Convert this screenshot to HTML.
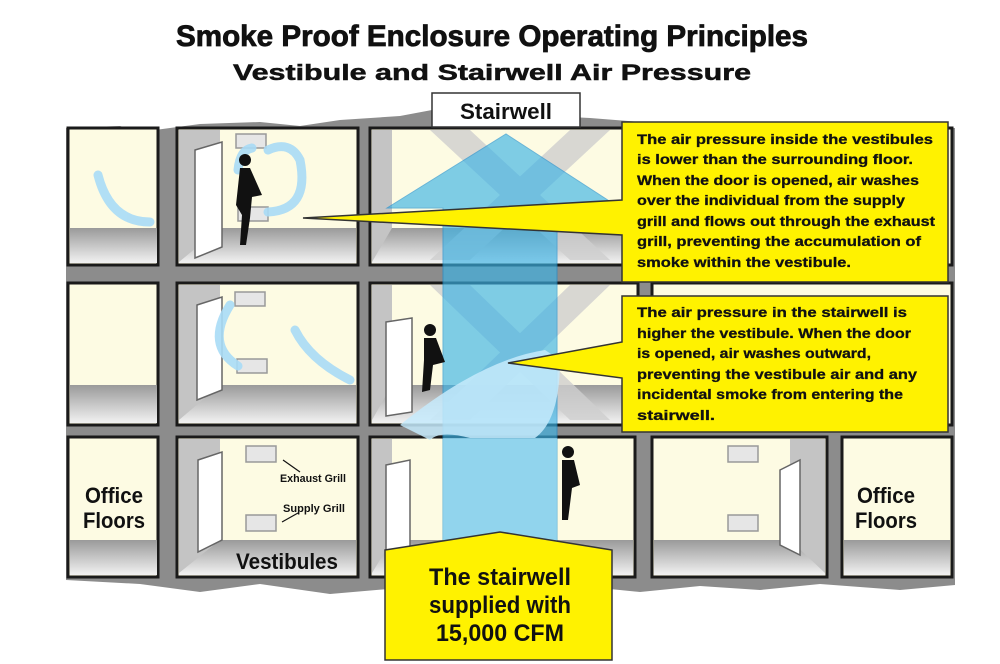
<!DOCTYPE html>
<html><head><meta charset="utf-8"><style>
html,body{margin:0;padding:0;background:#fff;}
svg{display:block;font-family:"Liberation Sans",sans-serif;font-weight:bold;}
</style></head><body>
<svg width="1000" height="664" viewBox="0 0 1000 664" xmlns="http://www.w3.org/2000/svg">
<defs>
<linearGradient id="fl" x1="0" y1="0" x2="0" y2="1"><stop offset="0" stop-color="#9a9a9a"/><stop offset="1" stop-color="#f2f2f2"/></linearGradient>
</defs>
<text x="492" y="46" font-size="30" text-anchor="middle" textLength="632" lengthAdjust="spacingAndGlyphs" fill="#111" stroke="#111" stroke-width="0.8">Smoke Proof Enclosure Operating Principles</text>
<text x="492" y="80" font-size="22" text-anchor="middle" textLength="518" lengthAdjust="spacingAndGlyphs" fill="#111" stroke="#111" stroke-width="0.5">Vestibule and Stairwell Air Pressure</text>

<path d="M66 128 L120 126 L140 132 L200 124 L260 122 L300 126 L340 120 L400 116 L432 110 L590 118 L640 122 L700 124 L760 126 L820 126 L900 128 L955 128 L955 585 L900 590 L820 584 L760 590 L700 586 L640 592 L600 588 L540 594 L470 590 L400 588 L330 594 L260 584 L200 592 L140 584 L66 580 Z" fill="#8c8c8c"/>

<g stroke="#1a1a1a" stroke-width="3">
<rect x="68" y="128" width="90" height="137" fill="#fdfbe3"/>
<rect x="177" y="128" width="181" height="137" fill="#fdfbe3"/>
<rect x="370" y="128" width="268" height="137" fill="#fdfbe3"/>
<rect x="652" y="128" width="300" height="137" fill="#fdfbe3"/>
<rect x="68" y="283" width="90" height="142" fill="#fdfbe3"/>
<rect x="177" y="283" width="181" height="142" fill="#fdfbe3"/>
<rect x="370" y="283" width="268" height="142" fill="#fdfbe3"/>
<rect x="652" y="283" width="300" height="142" fill="#fdfbe3"/>
<rect x="68" y="437" width="90" height="140" fill="#fdfbe3"/>
<rect x="177" y="437" width="181" height="140" fill="#fdfbe3"/>
<rect x="370" y="437" width="265" height="140" fill="#fdfbe3"/>
<rect x="652" y="437" width="175" height="140" fill="#fdfbe3"/>
<rect x="842" y="437" width="110" height="140" fill="#fdfbe3"/>
</g>
<g fill="url(#fl)">
<rect x="70" y="228" width="87" height="35"/>
<rect x="179" y="228" width="177" height="35"/>
<rect x="372" y="228" width="264" height="35"/>
<rect x="70" y="385" width="87" height="38"/>
<rect x="179" y="385" width="177" height="38"/>
<rect x="372" y="385" width="264" height="38"/>
<rect x="70" y="540" width="87" height="35"/>
<rect x="179" y="540" width="177" height="35"/>
<rect x="372" y="540" width="261" height="35"/>
<rect x="654" y="540" width="171" height="35"/>
<rect x="844" y="540" width="106" height="35"/>
</g>
<g fill="#c4c4c4">
<polygon points="179,130 220,130 220,228 179,262"/>
<polygon points="179,285 220,285 220,385 179,420"/>
<polygon points="179,439 220,439 220,540 179,573"/>
<polygon points="372,130 392,130 392,228 372,262"/>
<polygon points="372,285 392,285 392,385 372,420"/>
<polygon points="372,439 392,439 392,540 372,573"/>
<polygon points="825,439 790,439 790,540 825,573"/>
</g>
<g fill="#cfcfcf" opacity="0.8">
<polygon points="430,130 470,130 610,260 570,260"/>
<polygon points="570,130 610,130 470,260 430,260"/>
<polygon points="430,285 470,285 610,420 570,420"/>
<polygon points="570,285 610,285 470,420 430,420"/>
</g>
<g fill="#e6e6e6" stroke="#999" stroke-width="1.5">
<rect x="236" y="134" width="30" height="14"/><rect x="238" y="207" width="30" height="14"/>
<rect x="235" y="292" width="30" height="14"/><rect x="237" y="359" width="30" height="14"/>
<rect x="246" y="446" width="30" height="16"/><rect x="246" y="515" width="30" height="16"/>
<rect x="728" y="446" width="30" height="16"/><rect x="728" y="515" width="30" height="16"/>
</g>
<g fill="#fff" stroke="#666" stroke-width="1.5">
<polygon points="195,150 222,142 222,247 195,258"/>
<polygon points="197,305 222,297 222,390 197,400"/>
<polygon points="198,460 222,452 222,540 198,552"/>
<polygon points="386,322 412,318 412,412 386,416"/>
<polygon points="386,465 410,460 410,555 386,560"/>
<polygon points="630,300 640,300 640,420 630,410"/>
<polygon points="630,150 640,150 640,260 630,250"/>
<polygon points="780,470 800,460 800,555 780,545"/>
</g>
<polygon points="387,208 506,134 620,208 557,208 557,570 443,570 443,208" fill="#3bb3e6" opacity="0.65" stroke="#1a8fd0" stroke-width="1"/>
<path d="M400 425 Q480 360 545 350 L560 360 Q560 420 535 438 L470 438 Q440 430 430 440 Z" fill="#c6eafb" opacity="0.85"/>
<path d="M443 438 L557 438 L557 545 L443 545 Z" fill="#9fd8f3" opacity="0.6"/>
<g fill="none" stroke="#a9dbf6" stroke-width="9" stroke-linecap="round" opacity="0.9">
<path d="M98 175 Q110 222 150 222"/>
<path d="M268 212 Q310 210 300 160 Q290 140 268 150"/>
<path d="M238 170 Q240 150 252 148"/>
<path d="M238 366 Q205 345 230 305"/>
<path d="M350 380 Q310 360 295 330"/>
</g>
<g fill="#111">
<circle cx="245" cy="160" r="6"/><path d="M240 168 L250 168 L262 195 L252 197 L250 218 L246 245 L240 245 L242 215 L236 205 Z"/>
<circle cx="430" cy="330" r="6"/><path d="M424 338 L436 338 L445 362 L433 365 L430 390 L422 392 L424 360 Z"/>
<circle cx="568" cy="452" r="6"/><path d="M562 460 L574 460 L580 485 L572 488 L568 520 L562 520 L562 485 Z"/>
</g>
<rect x="432" y="93" width="148" height="34" fill="#fff" stroke="#333" stroke-width="1.5"/>
<text x="506" y="119" font-size="22" text-anchor="middle" textLength="92" lengthAdjust="spacingAndGlyphs" fill="#111">Stairwell</text>

<g fill="#fff200" stroke="#333" stroke-width="1.5">
<polygon points="622,122 948,122 948,282 622,282 622,235 303,218 622,200"/>
<polygon points="622,296 948,296 948,432 622,432 622,378 508,363 622,342"/>
<polygon points="385,550 500,532 612,550 612,660 385,660"/>
</g>
<g font-size="14" fill="#111" stroke="#111" stroke-width="0.3">
<text x="637" y="144" textLength="296" lengthAdjust="spacingAndGlyphs">The air pressure inside the vestibules</text>
<text x="637" y="164" textLength="276" lengthAdjust="spacingAndGlyphs">is lower than the surrounding floor.</text>
<text x="637" y="185" textLength="282" lengthAdjust="spacingAndGlyphs">When the door is opened, air washes</text>
<text x="637" y="205" textLength="268" lengthAdjust="spacingAndGlyphs">over the individual from the supply</text>
<text x="637" y="226" textLength="298" lengthAdjust="spacingAndGlyphs">grill and flows out through the exhaust</text>
<text x="637" y="246" textLength="284" lengthAdjust="spacingAndGlyphs">grill, preventing the accumulation of</text>
<text x="637" y="267" textLength="214" lengthAdjust="spacingAndGlyphs">smoke within the vestibule.</text>
<text x="637" y="317" textLength="270" lengthAdjust="spacingAndGlyphs">The air pressure in the stairwell is</text>
<text x="637" y="338" textLength="274" lengthAdjust="spacingAndGlyphs">higher the vestibule. When the door</text>
<text x="637" y="358" textLength="234" lengthAdjust="spacingAndGlyphs">is opened, air washes outward,</text>
<text x="637" y="379" textLength="280" lengthAdjust="spacingAndGlyphs">preventing the vestibule air and any</text>
<text x="637" y="399" textLength="266" lengthAdjust="spacingAndGlyphs">incidental smoke from entering the</text>
<text x="637" y="420" textLength="78" lengthAdjust="spacingAndGlyphs">stairwell.</text>
</g>
<g font-size="24" fill="#111" text-anchor="middle">
<text x="500" y="585" textLength="142" lengthAdjust="spacingAndGlyphs">The stairwell</text>
<text x="500" y="613" textLength="142" lengthAdjust="spacingAndGlyphs">supplied with</text>
<text x="500" y="641" textLength="128" lengthAdjust="spacingAndGlyphs">15,000 CFM</text>
</g>
<g font-size="22" fill="#111" text-anchor="middle">
<text x="114" y="503" textLength="58" lengthAdjust="spacingAndGlyphs">Office</text>
<text x="114" y="528" textLength="62" lengthAdjust="spacingAndGlyphs">Floors</text>
<text x="886" y="503" textLength="58" lengthAdjust="spacingAndGlyphs">Office</text>
<text x="886" y="528" textLength="62" lengthAdjust="spacingAndGlyphs">Floors</text>
<text x="287" y="569" textLength="102" lengthAdjust="spacingAndGlyphs">Vestibules</text>
</g>
<g font-size="11" fill="#111">
<text x="280" y="482" textLength="66" lengthAdjust="spacingAndGlyphs">Exhaust Grill</text>
<text x="283" y="512" textLength="62" lengthAdjust="spacingAndGlyphs">Supply Grill</text>
</g>
<g stroke="#111" stroke-width="1.2">
<line x1="300" y1="472" x2="283" y2="460"/><line x1="298" y1="513" x2="282" y2="522"/>
</g>
</svg>
</body></html>
